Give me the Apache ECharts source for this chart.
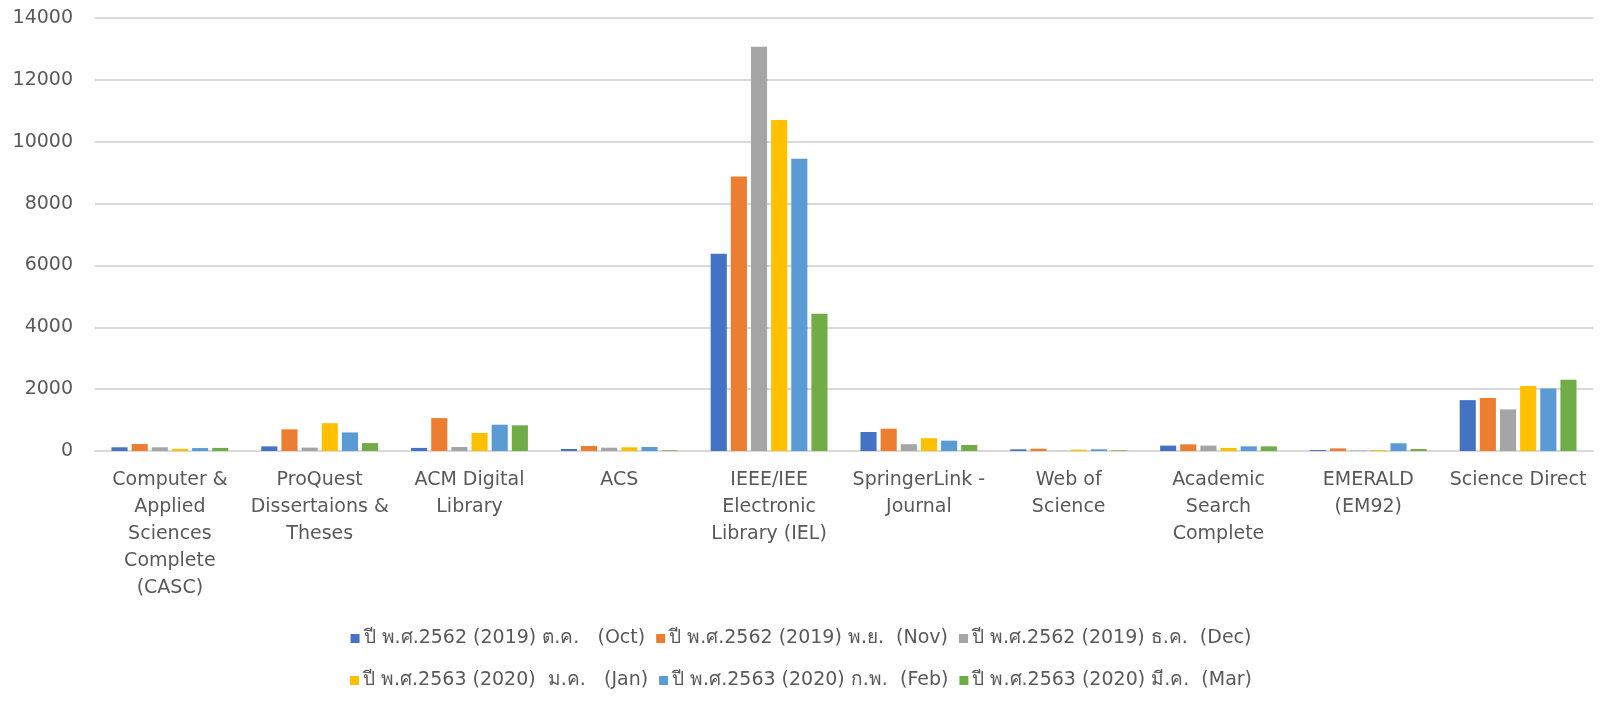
<!DOCTYPE html>
<html>
<head>
<meta charset="utf-8">
<script src="https://cdn.jsdelivr.net/npm/echarts@6/dist/echarts.min.js"></script>
<style>
html,body{margin:0;padding:0;background:#fff;}
#c{width:1602px;height:701px;}
</style>
</head>
<body>
<div id="c"></div>
<script>
const categories = [
  'Computer &\nApplied\nSciences\nComplete\n(CASC)',
  'ProQuest\nDissertaions &\nTheses',
  'ACM Digital\nLibrary',
  'ACS',
  'IEEE/IEE\nElectronic\nLibrary (IEL)',
  'SpringerLink -\nJournal',
  'Web of\nScience',
  'Academic\nSearch\nComplete',
  'EMERALD\n(EM92)',
  'Science Direct'
];
const seriesNames = [
  'ปี พ.ศ.2562 (2019) ต.ค.   (Oct)',
  'ปี พ.ศ.2562 (2019) พ.ย.  (Nov)',
  'ปี พ.ศ.2562 (2019) ธ.ค.  (Dec)',
  'ปี พ.ศ.2563 (2020)  ม.ค.   (Jan)',
  'ปี พ.ศ.2563 (2020) ก.พ.  (Feb)',
  'ปี พ.ศ.2563 (2020) มี.ค.  (Mar)'
];
const octValues = [120, 150, 100, 65, 6380, 615, 55, 175, 30, 1645];
const novValues = [225, 700, 1065, 160, 8875, 720, 75, 215, 85, 1710];
const decValues = [120, 110, 130, 107, 13070, 220, 5, 175, 15, 1345];
const janValues = [70, 900, 585, 120, 10700, 415, 45, 100, 30, 2105];
const febValues = [95, 600, 850, 130, 9450, 335, 55, 150, 250, 2020];
const marValues = [100, 255, 830, 20, 4440, 195, 20, 150, 65, 2300];
const yTicks = { min: 0, max: 14000, interval: 2000 };

const colors = ['#4472C4', '#ED7D31', '#A5A5A5', '#FFC000', '#5B9BD5', '#70AD47'];
const allValues = [octValues, novValues, decValues, janValues, febValues, marValues];
const font = "Tahoma, 'DejaVu Sans', sans-serif";

const chart = echarts.init(document.getElementById('c'));
const legendCommon = {
  left: 'center',
  itemWidth: 9,
  itemHeight: 9,
  itemGap: 11,
  icon: 'rect',
  textStyle: { color: '#595959', fontSize: 19, fontFamily: font, padding: [0, 0, 0, -1] }
};
chart.setOption({
  animation: false,
  color: colors,
  grid: { left: 95, right: 9, top: 18, bottom: 250, containLabel: false },
  legend: [
    Object.assign({ top: 624, data: seriesNames.slice(0, 3) }, legendCommon),
    Object.assign({ top: 666, data: seriesNames.slice(3, 6) }, legendCommon)
  ],
  xAxis: {
    type: 'category',
    data: categories,
    axisLine: { lineStyle: { color: '#D9D9D9', width: 2 } },
    axisTick: { show: false },
    axisLabel: { color: '#595959', fontSize: 19, fontFamily: font, lineHeight: 27, margin: 16, interval: 0 }
  },
  yAxis: {
    type: 'value',
    min: yTicks.min,
    max: yTicks.max,
    interval: yTicks.interval,
    axisLine: { show: false },
    axisTick: { show: false },
    splitLine: { lineStyle: { color: '#D9D9D9', width: 2 } },
    axisLabel: { color: '#595959', fontSize: 19, fontFamily: font, margin: 22, formatter: v => String(v) }
  },
  series: allValues.map((vals, i) => ({
    name: seriesNames[i],
    type: 'bar',
    data: vals,
    barGap: '25%',
    barCategoryGap: '22%'
  }))
});
</script>
</body>
</html>
